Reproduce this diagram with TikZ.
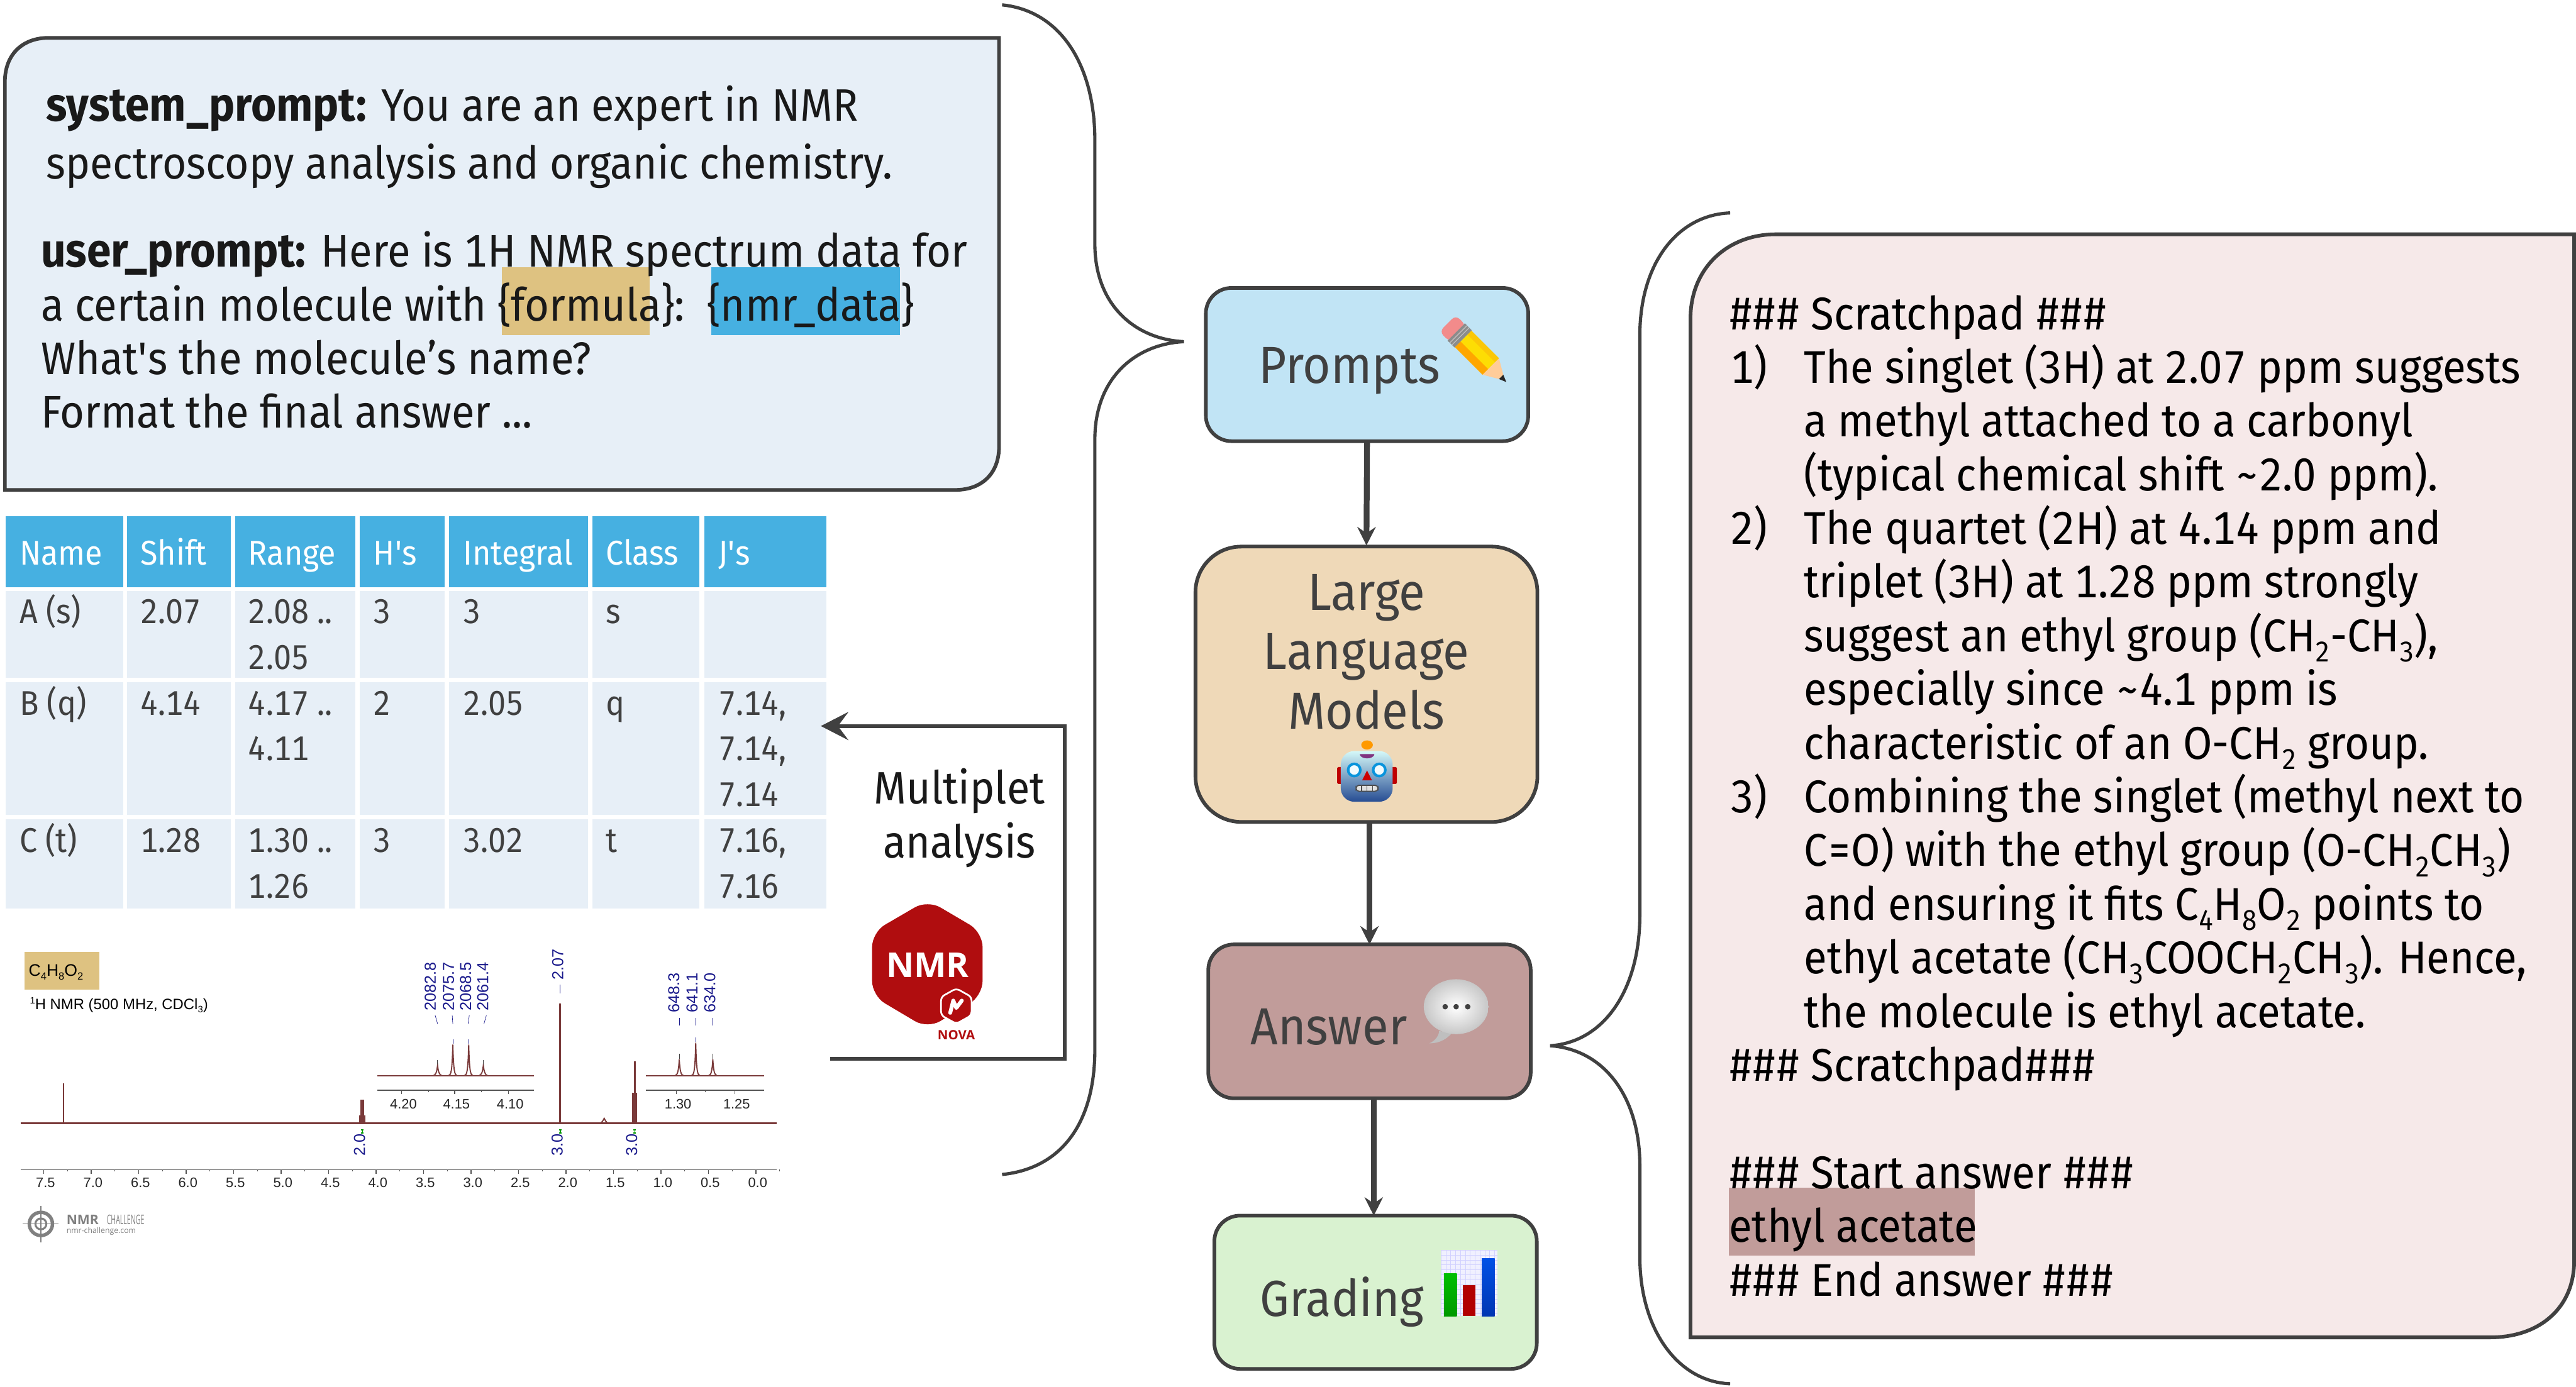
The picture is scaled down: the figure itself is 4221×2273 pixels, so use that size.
\documentclass[tikz,border=0pt]{standalone}
\usepackage{fontspec}
\usepackage{graphicx}
\setmainfont{Fira Sans}[FakeStretch=0.92,Numbers=Tabular]
\newfontfamily\arialf{Liberation Sans}
\newfontfamily\logof{Open Sans}
\usetikzlibrary{arrows.meta,calc,shadings}
\definecolor{lineg}{HTML}{404040}
\definecolor{hdrblue}{HTML}{46B0E1}
\definecolor{cellblue}{HTML}{E7EFF7}
\definecolor{goldbg}{HTML}{DEC281}
\definecolor{pink}{HTML}{F6E9E9}
\definecolor{answerc}{HTML}{C19C9A}
\definecolor{promptc}{HTML}{C1E4F5}
\definecolor{llmc}{HTML}{EFD9B8}
\definecolor{gradec}{HTML}{D9F2D0}
\definecolor{specc}{HTML}{7A3A3A}
\definecolor{navyc}{HTML}{1A1A8C}
\definecolor{redlogo}{HTML}{B00D0F}
\newcommand\sbx[1]{\raisebox{-0.22em}{\scalebox{0.62}{#1}}}
\newcommand\peak[3]{\draw[specline] ({#1-7},#3) .. controls ({#1-3},{#3-1}) and ({#1-1.2},{#3-6}) .. (#1,#2) .. controls ({#1+1.2},{#3-6}) and ({#1+3},{#3-1}) .. ({#1+7},#3);}
\tikzset{
  flowbox/.style={draw=lineg,line width=1.7pt,rounded corners=0.42cm,inner sep=0pt,outer sep=0pt},
  flowarrow/.style={draw=lineg,line width=2.7pt,-{Stealth[length=0.3cm,width=0.3cm,inset=0.1cm]}},
  bracel/.style={draw=lineg,line width=1.5pt},
  txt/.style={anchor=base west,inner sep=0pt,outer sep=0pt},
  ctxt/.style={anchor=base,inner sep=0pt,outer sep=0pt},
  ptext/.style={txt,text=black!90,font=\fontsize{21.3pt}{25pt}\selectfont},
  stext/.style={txt,text=black!90,font=\fontsize{21.2pt}{25pt}\selectfont},
  rtext/.style={txt,text=black,font=\fontsize{21.4pt}{25pt}\selectfont},
  boxlabel/.style={txt,text=lineg,font=\fontsize{24.3pt}{27pt}\selectfont},
  hcell/.style={txt,text=white,font=\fontsize{16pt}{18pt}\selectfont},
  bcell/.style={txt,text=lineg,font=\fontsize{16pt}{18pt}\selectfont},
  specline/.style={draw=specc,line width=0.55pt},
  peaklabel/.style={ctxt,rotate=90,anchor=west,text=navyc,font=\arialf\fontsize{7.4pt}{9pt}\selectfont},
  axislabel/.style={ctxt,text=black!85,font=\arialf\fontsize{6.4pt}{8pt}\selectfont},
}
\begin{document}
\begin{tikzpicture}[x=0.01cm,y=-0.01cm]
\useasboundingbox[fill=white] (0,0) rectangle (4221,2273);

% ---- prompt panel
\draw[fill=cellblue,draw=lineg,line width=1.7pt]
  (80,62) -- (1637,62) -- (1637,732) .. controls (1637,775) and (1610,803) .. (1565,803)
  -- (8,803) -- (8,134) .. controls (8,90) and (36,62) .. (80,62) -- cycle;
\fill[goldbg] (822,438) rectangle (1064,549);
\fill[hdrblue] (1165,438) rectangle (1475,549);
\node[stext] (s1) at (76,198) {\textbf{\fontsize{22pt}{25pt}\selectfont system\_prompt:} You are an expert in NMR};
\node[stext,font=\fontsize{21pt}{25pt}\selectfont] (s2) at (76,293) {spectroscopy analysis and organic chemistry.};
\node[ptext] (u1) at (67,437) {\textbf{\fontsize{22.1pt}{25pt}\selectfont user\_prompt:} Here is 1H NMR spectrum data for};
\node[ptext] (u2) at (67,526) {a certain molecule with \{formula\}:\ \ \{nmr\_data\}};
\node[ptext] (u3) at (67,614) {What\textquotesingle s the molecule’s name?};
\node[ptext] (u4) at (67,701) {Format the final answer ...};

% ---- table
\foreach \xa/\xb in {9/202,208/378,385/582,589/729,736/964,971/1146,1154/1354}{
  \fill[hdrblue] (\xa,846) rectangle (\xb,962);
  \foreach \ya/\yb in {969/1111,1118/1336,1343/1489}{
    \fill[cellblue] (\xa,\ya) rectangle (\xb,\yb);
  }
}
\node[hcell] (h1) at (32,926) {Name};
\node[hcell] (h2) at (230,926) {Shift};
\node[hcell] (h3) at (407,926) {Range};
\node[hcell] (h4) at (612,926) {H\textquotesingle s};
\node[hcell] (h5) at (759,926) {Integral};
\node[hcell] (h6) at (993,926) {Class};
\node[hcell] (h7) at (1177,926) {J\textquotesingle s};
\node[bcell] (a1) at (32,1022) {A (s)};
\node[bcell] (a2) at (230,1022) {2.07};
\node[bcell] (a3) at (407,1022) {2.08 ..};
\node[bcell] (a3b) at (407,1097) {2.05};
\node[bcell] (a4) at (612,1022) {3};
\node[bcell] (a5) at (759,1022) {3};
\node[bcell] (a6) at (993,1022) {s};
\node[bcell] (b1) at (32,1172) {B (q)};
\node[bcell] (b2) at (230,1172) {4.14};
\node[bcell] (b3) at (407,1172) {4.17 ..};
\node[bcell] (b3b) at (407,1246) {4.11};
\node[bcell] (b4) at (612,1172) {2};
\node[bcell] (b5) at (759,1172) {2.05};
\node[bcell] (b6) at (993,1172) {q};
\node[bcell] (b7) at (1177,1172) {7.14,};
\node[bcell] (b7b) at (1177,1246) {7.14,};
\node[bcell] (b7c) at (1177,1322) {7.14};
\node[bcell] (c1) at (32,1397) {C (t)};
\node[bcell] (c2) at (230,1397) {1.28};
\node[bcell] (c3) at (407,1397) {1.30 ..};
\node[bcell] (c3b) at (407,1472) {1.26};
\node[bcell] (c4) at (612,1397) {3};
\node[bcell] (c5) at (759,1397) {3.02};
\node[bcell] (c6) at (993,1397) {t};
\node[bcell] (c7) at (1177,1397) {7.16,};
\node[bcell] (c7b) at (1177,1472) {7.16};

% ---- spectrum
\fill[goldbg] (40,1560) rectangle (163,1622);
\node[txt,font=\arialf\fontsize{7.8pt}{9pt}\selectfont] (formulatag) at (47,1600) {C\sbx{4}H\sbx{8}O\sbx{2}};
\node[txt,font=\arialf\fontsize{7pt}{9pt}\selectfont] (nmrhead) at (49,1654) {\raisebox{0.35em}{\scalebox{0.62}{1}}H NMR (500 MHz, CDCl\sbx{3})};
\draw[specline,line width=0.8pt] (34,1841) -- (1273,1841);
\draw[specline] (104,1841) -- (104,1776);
\draw[specline,line width=0.8pt] (590,1841) -- (590,1828) (592,1841) -- (592,1802) (595,1841) -- (595,1802) (597,1841) -- (597,1828);
\draw[specline,line width=0.8pt] (918,1841) -- (918,1645);
\peak{990}{1833}{1841}
\draw[specline,line width=0.8pt] (1037,1841) -- (1037,1791) (1040,1841) -- (1040,1740) (1043,1841) -- (1043,1791);
% main axis
\draw[lineg!90,line width=0.4pt] (34,1917) -- (1273,1917);
\foreach \i in {0,...,15}{
  \draw[lineg!90,line width=0.4pt] ({71.8+77.8*\i},1917) -- ({71.8+77.8*\i},1924);
  \draw[lineg!90,line width=0.3pt] ({110.7+77.8*\i},1917) -- ({110.7+77.8*\i},1920);
}
\foreach \lab [count=\i from 0] in {7.5,7.0,6.5,6.0,5.5,5.0,4.5,4.0,3.5,3.0,2.5,2.0,1.5,1.0,0.5,0.0}{
  \node[axislabel] at ({74.5+77.8*\i},1946) {\lab};
}
% inset 1
\draw[specline] (618,1763) -- (875,1763);
\peak{717}{1746}{1763}\peak{742}{1712}{1763}\peak{768}{1712}{1763}\peak{792}{1746}{1763}
\draw[lineg!90,line width=0.4pt] (618,1787) -- (875,1787);
\foreach \px/\lab in {658/4.20,745/4.15,833/4.10}{
  \draw[lineg!90,line width=0.4pt] (\px,1787) -- (\px,1793);
  \node[axislabel] at ({\px+3},1817) {\lab};
}
\foreach \px in {702,789}{\draw[lineg!90,line width=0.3pt] (\px,1787) -- (\px,1790);}
\foreach \px/\lab in {709/2082.8,739/2075.7,767/2068.5,795/2061.4}{
  \node[peaklabel,anchor=base west] at ({\px+5},1657) {\lab};
}
\draw[navyc,line width=0.2pt] (713,1664) -- (717,1678) (741,1664) -- (742,1678) (769,1664) -- (767,1678) (797,1664) -- (793,1678);
\draw[navyc,line width=0.3pt] (742,1703) -- (742,1711) (768,1703) -- (768,1711);
\draw[lineg,line width=0.3pt] (717,1737) -- (717,1745) (792,1737) -- (792,1745);
% inset 2
\draw[specline] (1058,1763) -- (1252,1763);
\peak{1113}{1736}{1763}\peak{1140}{1709}{1763}\peak{1168}{1736}{1763}
\draw[lineg!90,line width=0.4pt] (1058,1787) -- (1252,1787);
\foreach \px/\lab in {1108/1.30,1204/1.25}{
  \draw[lineg!90,line width=0.4pt] (\px,1787) -- (\px,1793);
  \node[axislabel] at ({\px+3},1817) {\lab};
}
\draw[lineg!90,line width=0.3pt] (1156,1787) -- (1156,1790);
\foreach \px/\lab in {1108/648.3,1138/641.1,1167/634.0}{
  \node[peaklabel,anchor=base west] at ({\px+5},1660) {\lab};
}
\draw[navyc,line width=0.2pt] (1113,1668) -- (1113,1681) (1140,1668) -- (1140,1681) (1168,1668) -- (1168,1681);
\draw[lineg,line width=0.3pt] (1113,1727) -- (1113,1735) (1168,1727) -- (1168,1735);
\draw[navyc,line width=0.3pt] (1140,1700) -- (1140,1708);
\node[peaklabel,anchor=base west] at (923,1606) {2.07};
\draw[navyc,line width=0.2pt] (918,1614) -- (918,1628);
% integrals
\foreach \px in {591,915,1037}{
  \draw[green!60!black,line width=0.4pt] ({\px+3},1852) -- ({\px+3},1857) ({\px+1},1852) -- ({\px+5},1852) ({\px+1},1857) -- ({\px+5},1857);
}
\node[peaklabel,anchor=base west] at (598,1895) {2.0};
\node[peaklabel,anchor=base west] at (922,1895) {3.0};
\node[peaklabel,anchor=base west] at (1044,1895) {3.0};
% NMR challenge logo
\draw[gray,line width=1.6pt] (67,2006) circle (0.19cm);
\draw[gray,line width=0.9pt] (67,2006) circle (0.09cm);
\draw[gray,line width=0.4pt] (37,2006) -- (96,2006) (67,1977) -- (67,2036);
\node[txt,text=gray,font=\logof\bfseries\fontsize{6.2pt}{7pt}\selectfont] (logoa) at (109,2007) {NMR};
\node[txt,text=gray,font=\logof\fontsize{6.2pt}{7pt}\selectfont] (logob) at (175,2007) {\scalebox{0.5}[1]{CHALLENGE}};
\node[txt,text=gray,font=\logof\fontsize{3.6pt}{4pt}\selectfont] (logoc) at (109,2021) {nmr-challenge.com};

% ---- multiplet
\coordinate (mstart) at (1360,1735);
\coordinate (mcorner) at (1745,1190);
\coordinate (mend) at (1345,1190);
\draw[draw=lineg,line width=1.7pt,-{Stealth[length=0.45cm,width=0.46cm,inset=0.17cm]}] (mstart) -| (mcorner) -- (mend);
\node[ctxt,text=black!90,font=\fontsize{21.2pt}{25pt}\selectfont] (mult1) at (1572,1317) {Multiplet};
\node[ctxt,text=black!90,font=\fontsize{21.2pt}{25pt}\selectfont] (mult2) at (1572,1406) {analysis};
\fill[redlogo,rounded corners=0.24cm] (1520,1475) -- (1610,1528) -- (1610,1632) -- (1520,1686) -- (1429,1632) -- (1429,1528) -- cycle;
\node[ctxt,text=white,font=\logof\bfseries\fontsize{16pt}{18pt}\selectfont] (nmrlogo) at (1520,1602) {NMR};
\draw[fill=redlogo,draw=white,line width=0.8pt,rounded corners=0.06cm] (1567,1620) -- (1592,1634) -- (1592,1664) -- (1567,1678) -- (1542,1664) -- (1542,1634) -- cycle;
\draw[white,line width=1.8pt,line cap=round,line join=round] (1557,1660) -- (1562,1640) -- (1567,1652) -- (1576,1640);
\node[ctxt,text=redlogo,font=\logof\bfseries\fontsize{6pt}{7pt}\selectfont] (novalogo) at (1567,1704) {NOVA};

% ---- braces
\draw[bracel] (1642,8) .. controls (1740,18) and (1794,110) .. (1794,230) -- (1794,400) .. controls (1794,500) and (1860,556) .. (1940,560) .. controls (1860,564) and (1794,620) .. (1794,720) -- (1794,1720) .. controls (1794,1840) and (1740,1915) .. (1642,1925);
\draw[bracel] (2835,349) .. controls (2750,352) and (2687,430) .. (2687,550) -- (2687,1500) .. controls (2687,1620) and (2630,1708) .. (2540,1714) .. controls (2630,1720) and (2687,1800) .. (2687,1910) -- (2687,2060) .. controls (2687,2180) and (2750,2265) .. (2835,2268);

% ---- flow
\node[flowbox,fill=promptc,minimum width=5.28cm,minimum height=2.51cm] (prompts) at (2240,597.5) {};
\node[flowbox,fill=llmc,minimum width=5.60cm,minimum height=4.51cm,rounded corners=0.75cm] (llm) at (2239,1121.5) {};
\node[flowbox,fill=answerc,minimum width=5.28cm,minimum height=2.52cm] (answer) at (2244,1674) {};
\node[flowbox,fill=gradec,minimum width=5.28cm,minimum height=2.51cm] (grading) at (2254,2118) {};
\draw[flowarrow] (prompts.south) -- ([yshift=0.02cm]llm.north);
\draw[flowarrow] (answer.north |- llm.south) -- (answer.north);
\draw[flowarrow] ([xshift=-0.03cm]grading.north |- answer.south) -- ([xshift=-0.03cm]grading.north);
\node[boxlabel] (promptstxt) at (2063,628) {Prompts};
\node[ctxt,text=lineg,font=\fontsize{24.3pt}{27pt}\selectfont] (l1) at (2239,1000) {Large};
\node[ctxt,text=lineg,font=\fontsize{24.3pt}{27pt}\selectfont] (l2) at (2239,1097) {Language};
\node[ctxt,text=lineg,font=\fontsize{24.3pt}{27pt}\selectfont] (l3) at (2239,1195) {Models};
\node[boxlabel] (answertxt) at (2049,1712) {Answer};
\node[boxlabel,font=\fontsize{23.6pt}{27pt}\selectfont] (gradingtxt) at (2065,2157) {Grading};

% pencil icon
\begin{scope}[shift={(2372,530)},rotate=-45]
  \fill[yellow!80!orange] (36,-19) -- (100,-19) -- (100,19) -- (36,19) -- cycle;
  \fill[orange!70!yellow] (36,6) -- (100,6) -- (100,19) -- (36,19) -- cycle;
  \fill[yellow!60!orange] (36,-19) -- (100,-19) -- (100,-10) -- (36,-10) -- cycle;
  \fill[orange!40!white] (100,-19) -- (124,-5) -- (124,5) -- (100,19) -- cycle;
  \fill[black!85] (124,-5) -- (136,0) -- (124,5) -- cycle;
  \fill[black!45] (20,-20) rectangle (36,20);
  \draw[black!25,line width=0.4pt] (25,-20) -- (25,20) (30,-20) -- (30,20);
  \fill[red!45!white!90!gray,rounded corners=0.09cm] (0,-19) rectangle (24,19);
  \fill[black!45] (20,-20) rectangle (24,20);
\end{scope}

% robot icon
\fill[red!75!black,rounded corners=0.02cm] (2191,1257) rectangle (2289,1285);
\shade[top color=cyan!15!white!95!gray,bottom color=cyan!35!blue!50!black!85,rounded corners=0.22cm] (2197,1231) rectangle (2282,1314);
\fill[violet!60!gray] (2228,1236) arc[start angle=180,end angle=360,x radius=12,y radius=-7] -- cycle;
\fill[orange!80!yellow] (2240,1221) ellipse (0.095cm and 0.075cm);
\draw[cyan!80!blue,fill=cyan!5!white,line width=1.2pt] (2219,1262) circle (0.1cm) (2260,1262) circle (0.1cm);
\fill[red!80!black] (2240,1263) -- (2248,1279) -- (2232,1279) -- cycle;
\draw[black!70,fill=black!12,line width=0.5pt,rounded corners=0.05cm] (2222,1287) rectangle (2258,1297);
\draw[black!70,line width=0.4pt] (2231,1287) -- (2231,1297) (2240,1287) -- (2240,1297) (2249,1287) -- (2249,1297);

% bubble icon
\fill[black!25] (2358,1690) .. controls (2358,1697) and (2352,1706) .. (2342,1710) .. controls (2360,1710) and (2372,1702) .. (2380,1692) -- cycle;
\shade[inner color=white,outer color=black!22] (2386,1650) ellipse (0.53cm and 0.45cm);
\fill[lineg] (2368,1650) circle (0.045cm) (2386,1650) circle (0.045cm) (2405,1650) circle (0.045cm);

% chart icon
\fill[blue!6!white] (2361,2049) rectangle (2454,2157);
\foreach \i in {0,...,11}{\draw[blue!18!white,line width=0.15pt] ({2361+8*\i},2049) -- ({2361+8*\i},2157);}
\foreach \i in {0,...,13}{\draw[blue!18!white,line width=0.15pt] (2361,{2049+8*\i}) -- (2454,{2049+8*\i});}
\shade[top color=green!75!black,bottom color=green!60!black] (2366,2087) rectangle (2387,2157);
\fill[red!70!black] (2397,2106) rectangle (2418,2157);
\shade[top color=blue!65!cyan!90!black,bottom color=blue!70!cyan!70!black] (2428,2063) rectangle (2449,2157);

% ---- right panel
\draw[fill=pink,draw=lineg,line width=1.7pt]
  (2910,384) -- (4218,384) -- (4218,2066) .. controls (4218,2145) and (4160,2192) .. (4080,2192)
  -- (2770,2192) -- (2770,522) .. controls (2770,440) and (2830,384) .. (2910,384) -- cycle;
\fill[answerc] (2833,1947) rectangle (3236,2058);
\node[rtext] (r0) at (2833,540) {\#\#\# Scratchpad \#\#\#};
\node[rtext] (r1n) at (2835,628) {1)};
\node[rtext] (r1) at (2956,628) {The singlet (3H) at 2.07 ppm suggests};
\node[rtext] (r2) at (2956,716) {a methyl attached to a carbonyl};
\node[rtext] (r3) at (2956,804) {(typical chemical shift \textasciitilde 2.0 ppm).};
\node[rtext] (r4n) at (2835,892) {2)};
\node[rtext] (r4) at (2956,892) {The quartet (2H) at 4.14 ppm and};
\node[rtext] (r5) at (2956,980) {triplet (3H) at 1.28 ppm strongly};
\node[rtext] (r6) at (2956,1068) {suggest an ethyl group (CH\sbx{2}-CH\sbx{3}),};
\node[rtext] (r7) at (2956,1156) {especially since \textasciitilde 4.1 ppm is};
\node[rtext] (r8) at (2956,1244) {characteristic of an O-CH\sbx{2} group.};
\node[rtext] (r9n) at (2835,1332) {3)};
\node[rtext] (r9) at (2956,1332) {Combining the singlet (methyl next to};
\node[rtext] (r10) at (2956,1420) {C=O) with the ethyl group (O-CH\sbx{2}CH\sbx{3})};
\node[rtext] (r11) at (2956,1508) {and ensuring it fits C\sbx{4}H\sbx{8}O\sbx{2} points to};
\node[rtext] (r12) at (2956,1596) {ethyl acetate (CH\sbx{3}COOCH\sbx{2}CH\sbx{3}). Hence,};
\node[rtext] (r13) at (2956,1684) {the molecule is ethyl acetate.};
\node[rtext] (r14) at (2833,1772) {\#\#\# Scratchpad\#\#\#};
\node[rtext] (r15) at (2833,1948) {\#\#\# Start answer \#\#\#};
\node[rtext] (r16) at (2833,2036) {ethyl acetate};
\node[rtext] (r17) at (2833,2124) {\#\#\# End answer \#\#\#};
\end{tikzpicture}
\end{document}
